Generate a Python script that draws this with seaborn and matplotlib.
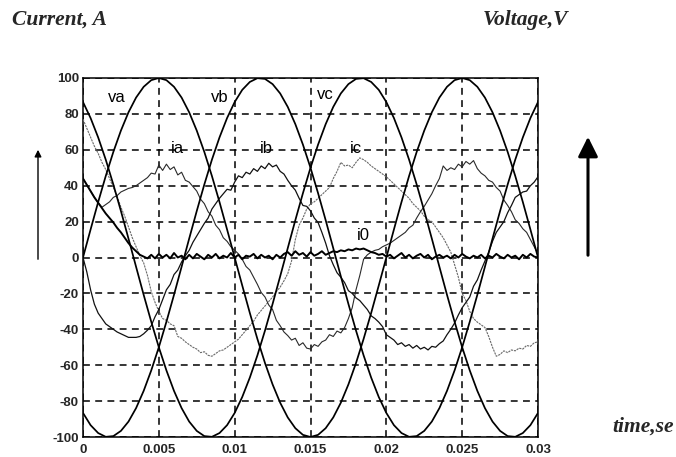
import numpy as np
import pandas as pd
import matplotlib
matplotlib.use("Agg")
import matplotlib.pyplot as plt
import seaborn as sns

# ---- data -------------------------------------------------------------
# voltage samples every 0.5 ms (0 .. 30 ms)
t_v = np.linspace(0.0, 0.03, 61)
va = [0, 15.6, 30.9, 45.4, 58.8, 70.7, 80.9, 89.1, 95.1, 98.8, 100,
      98.8, 95.1, 89.1, 80.9, 70.7, 58.8, 45.4, 30.9, 15.6, 0,
      -15.6, -30.9, -45.4, -58.8, -70.7, -80.9, -89.1, -95.1, -98.8, -100,
      -98.8, -95.1, -89.1, -80.9, -70.7, -58.8, -45.4, -30.9, -15.6, 0,
      15.6, 30.9, 45.4, 58.8, 70.7, 80.9, 89.1, 95.1, 98.8, 100,
      98.8, 95.1, 89.1, 80.9, 70.7, 58.8, 45.4, 30.9, 15.6, 0]
vb = [-86.6, -93.4, -97.8, -99.9, -99.5, -96.6, -91.4, -83.9, -74.3, -62.9, -50,
      -35.8, -20.8, -5.2, 10.5, 25.9, 40.7, 54.5, 66.9, 77.7, 86.6,
      93.4, 97.8, 99.9, 99.5, 96.6, 91.4, 83.9, 74.3, 62.9, 50,
      35.8, 20.8, 5.2, -10.5, -25.9, -40.7, -54.5, -66.9, -77.7, -86.6,
      -93.4, -97.8, -99.9, -99.5, -96.6, -91.4, -83.9, -74.3, -62.9, -50,
      -35.8, -20.8, -5.2, 10.5, 25.9, 40.7, 54.5, 66.9, 77.7, 86.6]
vc = [86.6, 77.7, 66.9, 54.5, 40.7, 25.9, 10.5, -5.2, -20.8, -35.8, -50,
      -62.9, -74.3, -83.9, -91.4, -96.6, -99.5, -99.9, -97.8, -93.4, -86.6,
      -77.7, -66.9, -54.5, -40.7, -25.9, -10.5, 5.2, 20.8, 35.8, 50,
      62.9, 74.3, 83.9, 91.4, 96.6, 99.5, 99.9, 97.8, 93.4, 86.6,
      77.7, 66.9, 54.5, 40.7, 25.9, 10.5, -5.2, -20.8, -35.8, -50,
      -62.9, -74.3, -83.9, -91.4, -96.6, -99.5, -99.9, -97.8, -93.4, -86.6]

# current samples every 0.25 ms (0 .. 30 ms)
t_i = np.linspace(0.0, 0.03, 121)
ia = [44, 40.5, 37, 33.5, 30.5, 28, 29.5, 31, 33.5, 34.5,
      36.5, 37.5, 38.5, 39, 40, 41.5, 43, 44.5, 47, 46.5,
      51.5, 48.5, 52, 49, 50.5, 46, 47.5, 43, 42, 39.5,
      37, 32.5, 30, 25.5, 23, 18, 15.5, 11, 9, 6,
      4, 2, -1, -5, -7, -11, -15, -19.5, -22, -26.5,
      -29, -35, -38, -41.5, -43.5, -46, -45, -49, -47.5, -50.5,
      -51, -48.5, -49.5, -47, -46, -43, -44, -41, -42, -39,
      -34, -28, -18, -10, -1, 1.5, 3, 4, 4.5, 6,
      7, 8, 9.5, 11, 12.5, 14, 16.5, 18, 22, 25.5,
      28.5, 32, 35.5, 40, 44, 51, 48.5, 50, 49, 52,
      50.5, 53.5, 52, 54, 49.5, 47, 45.5, 43, 42, 39,
      37, 32, 29, 25.5, 21, 19, 16, 14, 10, 6, 2]
ib = [0, -8, -18, -26, -31, -34, -37, -38.5, -40, -41.5,
      -42.5, -43.5, -44.5, -44.5, -44.5, -44, -42.5, -40.5, -38, -33,
      -29, -23.5, -18, -15, -9.5, -7, -2.5, 1, 4, 8.5,
      12, 15.5, 19, 22, 27, 30, 33, 35.5, 38, 37.5,
      42, 45.5, 44.5, 47.5, 46.5, 49.5, 48, 51, 49.5, 52.5,
      50.5, 51.5, 48, 46.5, 43, 40, 37.5, 33, 29, 28.5,
      26, 22, 19.5, 14, 8, 1, -4, -8.5, -11, -14,
      -18.5, -20, -22.5, -24, -26.5, -29, -32.5, -34, -36, -38.5,
      -43, -44.5, -46, -48.5, -47.5, -49.5, -48.5, -50.5, -49, -51,
      -50, -51.5, -49.5, -50, -48, -46.5, -43, -40, -36.5, -32,
      -28, -25, -22, -16, -12.5, -7, -2, 3, 9, 14,
      17, 20, 25, 29, 33.5, 35, 36.5, 37, 40, 42, 45]
ic = [77, 72, 67, 62, 58, 53, 49, 44, 39, 34,
      28, 23, 17, 11, 6, 1, -3, -10, -19, -25,
      -30, -34, -35, -37, -38, -44, -45, -47, -48.5, -50,
      -51, -53, -52.5, -54.5, -55, -53.5, -52, -51.5, -50, -48.5,
      -47, -45.5, -43, -40.5, -38, -35.5, -32, -29.5, -27, -24.5,
      -22, -19, -16.5, -13, -9, -2, 10, 18, 22, 27,
      30, 31, 33, 35, 37, 39, 44, 48, 53, 51,
      51.5, 50, 53, 55.5, 54.5, 53, 51, 49.5, 48, 46.5,
      45, 43, 41, 39, 37, 35, 33, 30, 28, 26,
      23, 21, 20, 17, 14, 11, 7, 3, -4, -11,
      -20, -24, -30, -34, -36, -37.5, -39, -44, -50, -55,
      -54, -52, -53, -51.5, -52, -50.5, -51, -49, -49.5, -47.5, -47]
i0 = [44, 40.5, 37, 33.5, 30.5, 27.5, 24.5, 22, 19.5, 16.5,
      14, 11, 8, 5.5, 3.5, 1.5, 0.5, -0.5, 1.5, -0.5,
      2, 0, 1.5, -0.5, 2.5, 0, 1, -1, 1.5, -0.5,
      2, 0.5, -1, 1.5, 0, 2, -0.5, 1, 0, 2.5,
      0, 1.5, -1, 1, 0.5, 2, -0.5, 1.5, 0, 1,
      -1, 1.5, 0, 2, 3, 1, 3.5, 1.5, 2.5, 0.5,
      3, 1, 2, 3.5, 1.5, 2.5, 3.5, 3, 4, 3.5,
      4.5, 4, 5, 4.5, 5, 4, 3, 2.5, 1.5, 2,
      0.5, 1.5, -0.5, 1, 2.5, 0, 1.5, -0.5, 1, 2,
      0, 1.5, -1, 0.5, 1.5, 0, 1, -0.5, 1.5, 0,
      2, 0.5, -0.5, 1, 0, 1.5, -0.5, 1, 0, 2,
      0.5, -0.5, 1.5, 0, 1, -1, 1.5, 0, 2, 0.5, 0]

x_ticks = [0, 0.005, 0.01, 0.015, 0.02, 0.025, 0.03]
x_tick_labels = ["0", "0.005", "0.01", "0.015", "0.02", "0.025", "0.03"]
y_ticks = [-100, -80, -60, -40, -20, 0, 20, 40, 60, 80, 100]

curve_labels = {"va": (0.0022, 89), "vb": (0.0090, 89), "vc": (0.0160, 91),
                "ia": (0.0062, 61), "ib": (0.0121, 61), "ic": (0.0180, 61),
                "i0": (0.0185, 12.5)}

# ---- figure -----------------------------------------------------------
sns.set_style("white")
plt.rcParams["font.family"] = ["Liberation Sans", "DejaVu Sans"]
plt.rcParams["axes.unicode_minus"] = False

fig = plt.figure(figsize=(6.76, 4.57), dpi=100)
ax = fig.add_axes([83 / 676, 1 - 437 / 457, (538 - 83) / 676, (437 - 78) / 457])

volts = pd.DataFrame({"t": t_v, "va": va, "vb": vb, "vc": vc})
amps = pd.DataFrame({"t": t_i, "ia": ia, "ib": ib, "ic": ic, "i0": i0})

for name in ["va", "vb", "vc"]:
    sns.lineplot(data=volts, x="t", y=name, ax=ax, color="black", lw=1.25,
                 zorder=4)

sns.lineplot(data=amps, x="t", y="ic", ax=ax, color="#6a6a6a", lw=0.8,
             linestyle=(0, (2.0, 0.8)), zorder=3)
sns.lineplot(data=amps, x="t", y="ia", ax=ax, color="#2a2a2a", lw=0.8, zorder=3)
sns.lineplot(data=amps, x="t", y="ib", ax=ax, color="#111111", lw=0.9, zorder=3)
sns.lineplot(data=amps, x="t", y="i0", ax=ax, color="black", lw=1.4, zorder=5)

ax.set_xlim(0, 0.03)
ax.set_ylim(-100, 100)
ax.set_xticks(x_ticks)
ax.set_xticklabels(x_tick_labels)
ax.set_yticks(y_ticks)
ax.set_xlabel("")
ax.set_ylabel("")
ax.grid(True, color="black", linestyle=(0, (4.5, 3.5)), lw=1.1)
ax.set_axisbelow(True)
for side in ax.spines.values():
    side.set_color("black")
    side.set_linewidth(1.1)
ax.tick_params(axis="both", direction="in", length=3, width=0.8,
               labelsize=9.5, pad=3)
ax.tick_params(axis="x", pad=5)
for lab in ax.get_xticklabels() + ax.get_yticklabels():
    lab.set_fontweight("bold")

for name, (tx, ty) in curve_labels.items():
    ax.text(tx, ty, name, fontsize=12, ha="center", va="center",
            color="black", zorder=6)

# headings and axis captions
serif = dict(family=["Liberation Serif", "DejaVu Serif"], style="italic",
             weight="bold", fontsize=15.5)
fig.text(12 / 676, 1 - 20 / 457, "Current, A", ha="left", va="center", **serif)
fig.text(483 / 676, 1 - 20 / 457, "Voltage,V", ha="left", va="center", **serif)
fig.text(612 / 676, 1 - 427 / 457, "time,se", ha="left", va="center", **serif)

# direction arrows beside the axes
fig.add_artist(matplotlib.patches.FancyArrowPatch(
    (38 / 676, 1 - 262 / 457), (38 / 676, 1 - 147 / 457),
    transform=fig.transFigure, arrowstyle="-|>,head_length=4,head_width=2",
    color="black", lw=1.0))
fig.add_artist(matplotlib.patches.FancyArrowPatch(
    (588 / 676, 1 - 258 / 457), (588 / 676, 1 - 134 / 457),
    transform=fig.transFigure, arrowstyle="-|>,head_length=12,head_width=6",
    color="black", lw=2.2))

fig.savefig("out.png", dpi=100)
